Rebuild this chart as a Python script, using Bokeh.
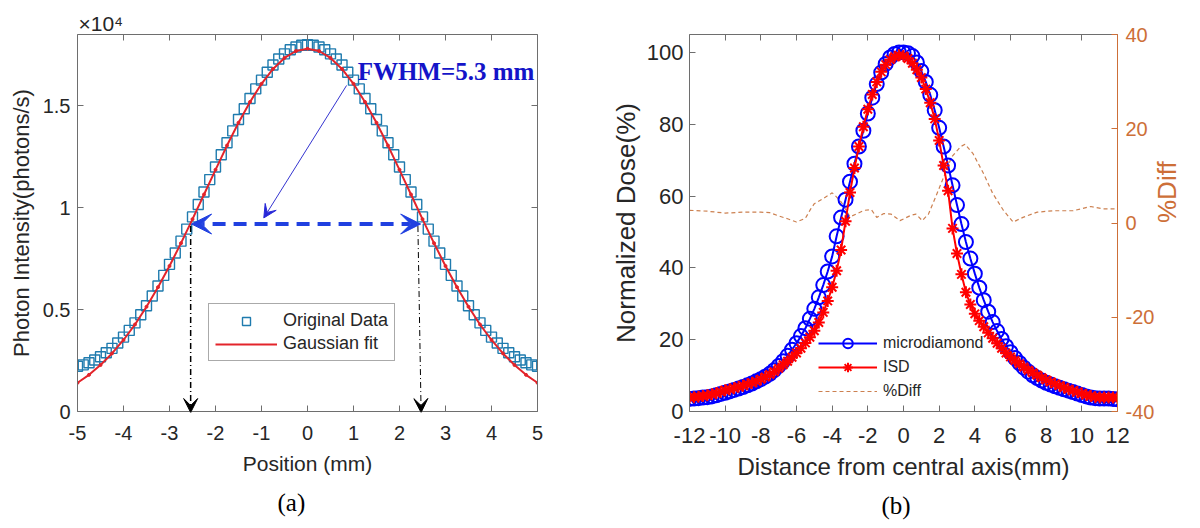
import math
from bokeh.plotting import figure
from bokeh.layouts import row
from bokeh.models import (Range1d, LinearAxis, Legend, LegendItem, Arrow, VeeHead,
                          Label, Title, CustomJSTickFormatter)
from bokeh.embed import file_html
from bokeh.resources import INLINE

# ---------------- data: panel (a) ----------------
pos_mm = [-5.0, -4.875, -4.75, -4.625, -4.5, -4.375, -4.25, -4.125, -4.0, -3.875,
          -3.75, -3.625, -3.5, -3.375, -3.25, -3.125, -3.0, -2.875, -2.75, -2.625,
          -2.5, -2.375, -2.25, -2.125, -2.0, -1.875, -1.75, -1.625, -1.5, -1.375,
          -1.25, -1.125, -1.0, -0.875, -0.75, -0.625, -0.5, -0.375, -0.25, -0.125,
          0.0, 0.125, 0.25, 0.375, 0.5, 0.625, 0.75, 0.875, 1.0, 1.125,
          1.25, 1.375, 1.5, 1.625, 1.75, 1.875, 2.0, 2.125, 2.25, 2.375,
          2.5, 2.625, 2.75, 2.875, 3.0, 3.125, 3.25, 3.375, 3.5, 3.625,
          3.75, 3.875, 4.0, 4.125, 4.25, 4.375, 4.5, 4.625, 4.75, 4.875, 5.0]
original_data = [0.222, 0.229, 0.239, 0.253, 0.269, 0.288, 0.310, 0.336, 0.365, 0.398,
                 0.435, 0.475, 0.519, 0.567, 0.616, 0.668, 0.722, 0.778, 0.836, 0.895,
                 0.955, 1.016, 1.077, 1.138, 1.200, 1.260, 1.319, 1.377, 1.433, 1.486,
                 1.536, 1.583, 1.626, 1.665, 1.700, 1.730, 1.755, 1.775, 1.789, 1.797,
                 1.800, 1.797, 1.789, 1.775, 1.755, 1.730, 1.700, 1.665, 1.626, 1.583,
                 1.536, 1.486, 1.433, 1.377, 1.319, 1.260, 1.200, 1.138, 1.077, 1.016,
                 0.955, 0.895, 0.836, 0.778, 0.722, 0.668, 0.616, 0.567, 0.519, 0.475,
                 0.435, 0.398, 0.365, 0.336, 0.310, 0.288, 0.269, 0.253, 0.239, 0.229, 0.222]
fit_mm = [-5.0, -4.75, -4.5, -4.25, -4.0, -3.75, -3.5, -3.25, -3.0, -2.75, -2.5,
          -2.25, -2.0, -1.75, -1.5, -1.25, -1.0, -0.75, -0.5, -0.25, 0.0,
          0.25, 0.5, 0.75, 1.0, 1.25, 1.5, 1.75, 2.0, 2.25, 2.5,
          2.75, 3.0, 3.25, 3.5, 3.75, 4.0, 4.25, 4.5, 4.75, 5.0]
gaussian_fit = [0.141, 0.180, 0.228, 0.285, 0.351, 0.427, 0.514, 0.610, 0.714, 0.826, 0.944,
                1.065, 1.186, 1.305, 1.417, 1.519, 1.608, 1.681, 1.735, 1.769, 1.780,
                1.769, 1.735, 1.681, 1.608, 1.519, 1.417, 1.305, 1.186, 1.065, 0.944,
                0.826, 0.714, 0.610, 0.514, 0.427, 0.351, 0.285, 0.228, 0.180, 0.141]
a_xticks = [-5, -4, -3, -2, -1, 0, 1, 2, 3, 4, 5]
a_xtick_labels = ["-5", "-4", "-3", "-2", "-1", "0", "1", "2", "3", "4", "5"]
a_yticks = [0, 0.5, 1, 1.5]
a_ytick_labels = ["0", "0.5", "1", "1.5"]

# ---------------- data: panel (b) ----------------
dist_mm = [-12.0, -11.75, -11.5, -11.25, -11.0, -10.75, -10.5, -10.25, -10.0, -9.75,
           -9.5, -9.25, -9.0, -8.75, -8.5, -8.25, -8.0, -7.75, -7.5, -7.25,
           -7.0, -6.75, -6.5, -6.25, -6.0, -5.75, -5.5, -5.25, -5.0, -4.75,
           -4.5, -4.25, -4.0, -3.75, -3.5, -3.25, -3.0, -2.75, -2.5, -2.25,
           -2.0, -1.75, -1.5, -1.25, -1.0, -0.75, -0.5, -0.25, 0.0, 0.25,
           0.5, 0.75, 1.0, 1.25, 1.5, 1.75, 2.0, 2.25, 2.5, 2.75,
           3.0, 3.25, 3.5, 3.75, 4.0, 4.25, 4.5, 4.75, 5.0, 5.25,
           5.5, 5.75, 6.0, 6.25, 6.5, 6.75, 7.0, 7.25, 7.5, 7.75,
           8.0, 8.25, 8.5, 8.75, 9.0, 9.25, 9.5, 9.75, 10.0, 10.25,
           10.5, 10.75, 11.0, 11.25, 11.5, 11.75, 12.0]
microdiamond = [3.5, 3.6, 3.7, 3.9, 4.0, 4.2, 4.5, 4.9, 5.2, 5.6,
                6.0, 6.4, 6.8, 7.3, 7.8, 8.4, 9.0, 9.7, 10.5, 11.5,
                12.7, 14.0, 15.5, 17.2, 19.0, 21.0, 23.2, 25.8, 28.6, 31.8,
                35.2, 39.0, 43.2, 48.8, 54.0, 59.0, 64.0, 69.0, 73.8, 78.2,
                83.0, 87.4, 91.2, 94.4, 96.8, 98.6, 99.6, 100.0, 100.0, 99.8,
                99.0, 97.2, 94.8, 91.8, 88.2, 83.9, 79.0, 73.8, 68.5, 63.0,
                57.5, 52.2, 47.2, 42.6, 38.4, 34.5, 31.0, 27.8, 24.9, 22.4,
                20.2, 18.2, 16.5, 14.9, 13.5, 12.2, 11.1, 10.1, 9.3, 8.6,
                8.0, 7.5, 7.0, 6.6, 6.2, 5.8, 5.4, 5.0, 4.6, 4.2,
                3.9, 3.7, 3.6, 3.6, 3.6, 3.5, 3.4]
isd = [3.9, 4.0, 4.1, 4.3, 4.5, 4.8, 5.1, 5.5, 5.9, 6.2,
       6.5, 6.9, 7.2, 7.6, 8.0, 8.4, 9.0, 9.6, 10.3, 11.1,
       12.0, 13.0, 14.0, 15.1, 16.3, 17.6, 19.1, 20.7, 22.5, 24.8,
       27.6, 30.8, 34.6, 39.2, 45.0, 53.0, 61.0, 67.8, 73.8, 79.3,
       84.2, 88.3, 91.8, 94.6, 96.6, 98.0, 98.8, 99.2, 99.0, 98.3,
       97.0, 95.2, 93.0, 89.8, 86.0, 81.5, 75.5, 68.5, 61.5, 51.0,
       44.0, 38.2, 33.2, 29.8, 27.2, 25.3, 23.6, 21.9, 20.4, 19.0,
       17.6, 16.3, 15.2, 14.2, 13.3, 12.4, 11.5, 10.8, 10.1, 9.4,
       8.8, 8.2, 7.7, 7.2, 6.7, 6.2, 5.8, 5.4, 5.0, 4.6,
       4.3, 4.0, 3.9, 3.9, 3.9, 3.9, 3.8]
diff_mm = [-12.0, -11.0, -10.0, -9.0, -8.0, -7.5, -7.0, -6.5, -6.0, -5.5, -5.2, -5.0,
           -4.5, -4.0, -3.8, -3.5, -3.0, -2.6, -2.2, -1.8, -1.5, -1.1, -0.7, -0.2,
           0.4, 0.7, 1.05, 1.4, 1.8, 2.25, 2.7, 3.2, 3.45, 3.9, 4.5, 5.0, 5.6,
           6.15, 6.7, 7.5, 8.4, 9.5, 10.5, 11.2, 12.0]
pct_diff = [2.7, 2.5, 2.1, 2.3, 2.3, 2.2, 1.5, 0.9, 0.2, 1.0, 3.0, 4.1,
            5.2, 6.4, 5.7, 4.5, 1.3, 2.0, 2.7, 2.8, 1.2, 2.0, 1.9, 0.5,
            1.6, 1.9, 0.5, 1.9, 5.5, 9.7, 14.0, 16.2, 16.7, 14.7, 10.4, 6.3, 2.7,
            0.2, 1.2, 2.3, 2.6, 2.6, 3.5, 3.0, 3.0]
b_xticks = [-12, -10, -8, -6, -4, -2, 0, 2, 4, 6, 8, 10, 12]
b_xtick_labels = ["-12", "-10", "-8", "-6", "-4", "-2", "0", "2", "4", "6", "8", "10", "12"]
b_yticks = [0, 20, 40, 60, 80, 100]
b_ytick_labels = ["0", "20", "40", "60", "80", "100"]
b_rticks = [-40, -20, 0, 20, 40]
b_rtick_labels = ["-40", "-20", "0", "20", "40"]

# ---------------- styles ----------------
SANS = "Liberation Sans"
SERIF = "Liberation Serif"
TXT = "#262626"
FRAME = "#6e6e6e"
SQ = "#1F7BAE"
RED_FIT = "#E3242B"
BLUE = "#0000FF"
RED = "#FF0000"
ORANGE = "#CD6F38"
DIFF = "#CC8050"
NAVY_TXT = "#1414C8"
ARROW_BLUE = "#2040E0"
EMPTY = CustomJSTickFormatter(code="return ''")


def style_axis(ax, size, color=FRAME, label_color=TXT, standoff=8):
    ax.major_tick_in = 6
    ax.major_tick_out = 0
    ax.minor_tick_in = 0
    ax.minor_tick_out = 0
    ax.axis_line_color = color
    ax.axis_line_width = 1
    ax.major_tick_line_color = color
    ax.major_label_text_font = SANS
    ax.major_label_text_font_size = size
    ax.major_label_text_color = label_color
    ax.major_label_standoff = standoff
    ax.axis_label_text_font = SANS
    ax.axis_label_text_font_style = "normal"
    ax.axis_label_text_color = label_color


def mirror(p, side, ticks, range_name=None):
    kw = {}
    if range_name:
        kw["y_range_name"] = range_name
    ax = LinearAxis(ticker=ticks, formatter=EMPTY, **kw)
    style_axis(ax, "1px", standoff=0)
    p.add_layout(ax, side)
    return ax


# ---------------- panel (a) ----------------
p1 = figure(width=600, height=528, x_range=Range1d(-5, 5), y_range=Range1d(0, 1.85),
            output_backend="svg", toolbar_location=None,
            min_border_left=77, min_border_right=63, min_border_top=34, min_border_bottom=117)
p1.outline_line_color = None
p1.xgrid.visible = False
p1.ygrid.visible = False

xa = p1.xaxis[0]
style_axis(xa, "20px", standoff=14)
xa.ticker = a_xticks
xa.major_label_overrides = dict(zip(a_xticks, a_xtick_labels))
xa.axis_label = "Position (mm)"
xa.axis_label_text_font_size = "21px"
xa.axis_label_standoff = 9

ya = p1.yaxis[0]
style_axis(ya, "20px", standoff=7)
ya.ticker = a_yticks
ya.major_label_overrides = dict(zip(a_yticks, a_ytick_labels))
ya.axis_label = "Photon Intensity(photons/s)"
ya.axis_label_text_font_size = "22px"
ya.axis_label_standoff = 6

mirror(p1, "above", a_xticks)
mirror(p1, "right", a_yticks)

sq = p1.scatter(pos_mm, original_data, marker="square", size=10, fill_color=None,
                line_color=SQ, line_width=1.4)
fit_line = p1.line(fit_mm, gaussian_fit, line_color=RED_FIT, line_width=2)
p1.scatter(fit_mm, gaussian_fit, marker="circle", size=3, fill_color=RED_FIT,
           line_color=RED_FIT)

leg1 = Legend(items=[LegendItem(label="Original Data", renderers=[sq]),
                     LegendItem(label="Gaussian fit", renderers=[fit_line])],
              location=(131, 50), orientation="vertical")
leg1.label_text_font = SANS
leg1.label_text_font_size = "18px"
leg1.label_text_color = TXT
leg1.border_line_color = "#555555"
leg1.border_line_width = 1
leg1.background_fill_color = "white"
leg1.background_fill_alpha = 1
leg1.padding = 6
leg1.spacing = 2
leg1.margin = 0
leg1.glyph_width = 62
leg1.glyph_height = 20
leg1.label_height = 20
leg1.label_standoff = 6
p1.add_layout(leg1)

# annotations (a)
p1.add_layout(Arrow(x_start=0.85, y_start=1.60, x_end=-0.95, y_end=0.95,
                    line_color="#3434D0", line_width=1,
                    end=VeeHead(size=13, fill_color="#2828D8", line_color="#2828D8")))
p1.add_layout(Arrow(x_start=-2.52, y_start=0.92, x_end=2.46, y_end=0.92,
                    line_color=ARROW_BLUE, line_width=4, line_dash="13 8",
                    start=VeeHead(size=20, fill_color=ARROW_BLUE, line_color=ARROW_BLUE),
                    end=VeeHead(size=20, fill_color=ARROW_BLUE, line_color=ARROW_BLUE)))
p1.add_layout(Arrow(x_start=-2.54, y_start=0.91, x_end=-2.54, y_end=-0.005,
                    line_color="black", line_width=1.5, line_dash="6 3 1 3",
                    end=VeeHead(size=14, fill_color="black", line_color="black")))
p1.add_layout(Arrow(x_start=2.40, y_start=0.91, x_end=2.47, y_end=-0.005,
                    line_color="black", line_width=1, line_dash="6 3 1 3",
                    end=VeeHead(size=14, fill_color="black", line_color="black")))
p1.add_layout(Label(x=1.09, y=1.669, text="FWHM=5.3 mm", text_font=SERIF,
                    text_font_style="bold", text_font_size="25px", text_color=NAVY_TXT,
                    text_align="left", text_baseline="middle"))
p1.add_layout(Title(text="\u00d710\u2074", align="left", offset=1, standoff=0,
                    text_font=SANS, text_font_size="21px", text_font_style="normal",
                    text_color=TXT), "above")
p1.add_layout(Title(text="(a)", align="left", offset=200, standoff=18,
                    text_font=SERIF, text_font_size="25px", text_font_style="normal",
                    text_color="black"), "below")

# ---------------- panel (b) ----------------
p2 = figure(width=600, height=528, x_range=Range1d(-12, 12), y_range=Range1d(0, 105),
            output_backend="svg", toolbar_location=None,
            min_border_left=89, min_border_right=82, min_border_top=34, min_border_bottom=117)
p2.outline_line_color = None
p2.xgrid.visible = False
p2.ygrid.visible = False
p2.extra_y_ranges = {"diff": Range1d(-40, 40)}

xb = p2.xaxis[0]
style_axis(xb, "22px", standoff=16)
xb.ticker = b_xticks
xb.major_label_overrides = dict(zip(b_xticks, b_xtick_labels))
xb.axis_label = "Distance from central axis(mm)"
xb.axis_label_text_font_size = "24px"
xb.axis_label_standoff = 7

yb = p2.yaxis[0]
style_axis(yb, "22px", standoff=6)
yb.ticker = b_yticks
yb.major_label_overrides = dict(zip(b_yticks, b_ytick_labels))
yb.axis_label = "Normalized Dose(%)"
yb.axis_label_text_font_size = "26px"
yb.axis_label_standoff = 3

rb = LinearAxis(y_range_name="diff", ticker=b_rticks)
style_axis(rb, "20px", color=ORANGE, label_color=ORANGE, standoff=8)
rb.major_label_overrides = dict(zip(b_rticks, b_rtick_labels))
rb.axis_label = "%Diff"
rb.axis_label_text_font_size = "26px"
rb.axis_label_standoff = 10
rb.axis_label_orientation = math.pi / 2
rb.axis_label_text_baseline = "top"
p2.add_layout(rb, "right")

mirror(p2, "above", b_xticks)

diff_line = p2.line(diff_mm, pct_diff, y_range_name="diff", line_color=DIFF,
                    line_width=1.2, line_dash="4 3")
md_line = p2.line(dist_mm, microdiamond, line_color=BLUE, line_width=2)
md_pts = p2.scatter(dist_mm, microdiamond, marker="circle", size=14, fill_color=None,
                    line_color=BLUE, line_width=2)
isd_line = p2.line(dist_mm, isd, line_color=RED, line_width=2)
isd_pts = p2.scatter(dist_mm, isd, marker="asterisk", size=12, line_color=RED,
                     line_width=2)

leg2 = Legend(items=[LegendItem(label="microdiamond", renderers=[md_line, md_pts]),
                     LegendItem(label="ISD", renderers=[isd_line, isd_pts]),
                     LegendItem(label="%Diff", renderers=[diff_line])],
              location=(129, 8), orientation="vertical")
leg2.label_text_font = SANS
leg2.label_text_font_size = "16px"
leg2.label_text_color = TXT
leg2.border_line_alpha = 0
leg2.background_fill_alpha = 0
leg2.padding = 0
leg2.spacing = 0
leg2.margin = 0
leg2.glyph_width = 59
leg2.glyph_height = 24
leg2.label_height = 24
leg2.label_standoff = 6
p2.add_layout(leg2)

p2.add_layout(Title(text="(b)", align="left", offset=192, standoff=15,
                    text_font=SERIF, text_font_size="25px", text_font_style="normal",
                    text_color="black"), "below")

layout = row(p1, p2)
open("out.html", "w").write(file_html(layout, INLINE))
